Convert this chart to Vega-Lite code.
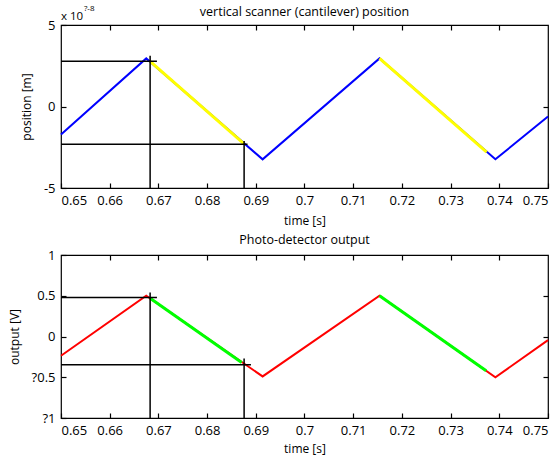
{
  "$schema": "https://vega.github.io/schema/vega-lite/v6.json",
  "padding": {"left": 7, "top": 4, "right": 0, "bottom": 0},
  "spacing": 5,
  "datasets": {
    "pos": [
      {"t": 0.65, "v": -1.72, "series": "scan"},
      {"t": 0.6675, "v": 2.95, "series": "scan"},
      {"t": 0.6914, "v": -3.24, "series": "scan"},
      {"t": 0.7154, "v": 2.95, "series": "scan"},
      {"t": 0.7392, "v": -3.24, "series": "scan"},
      {"t": 0.75, "v": -0.61, "series": "scan"},
      {"t": 0.6683, "v": 2.77, "series": "hi1"},
      {"t": 0.6876, "v": -2.3, "series": "hi1"},
      {"t": 0.7154, "v": 2.95, "series": "hi2"},
      {"t": 0.7374, "v": -2.8, "series": "hi2"}
    ],
    "posRef": [
      {"t": 0.65, "t2": 0.6697, "v": 2.77, "v2": 2.77},
      {"t": 0.6683, "t2": 0.6683, "v": 3.11, "v2": -5},
      {"t": 0.65, "t2": 0.6883, "v": -2.32, "v2": -2.32},
      {"t": 0.6876, "t2": 0.6876, "v": -2.11, "v2": -5}
    ],
    "out": [
      {"t": 0.65, "v": -0.236, "series": "det"},
      {"t": 0.6675, "v": 0.5, "series": "det"},
      {"t": 0.6914, "v": -0.49, "series": "det"},
      {"t": 0.7154, "v": 0.5, "series": "det"},
      {"t": 0.7392, "v": -0.5, "series": "det"},
      {"t": 0.75, "v": -0.045, "series": "det"},
      {"t": 0.6683, "v": 0.47, "series": "hi1"},
      {"t": 0.6871, "v": -0.32, "series": "hi1"},
      {"t": 0.7154, "v": 0.5, "series": "hi2"},
      {"t": 0.7373, "v": -0.42, "series": "hi2"}
    ],
    "outRef": [
      {"t": 0.65, "t2": 0.6697, "v": 0.478, "v2": 0.478},
      {"t": 0.6683, "t2": 0.6683, "v": 0.539, "v2": -1},
      {"t": 0.65, "t2": 0.689, "v": -0.346, "v2": -0.346},
      {"t": 0.6876, "t2": 0.6876, "v": -0.27, "v2": -1}
    ],
    "expo": [
      {"t": 0.65, "v": 5, "label": "x 10"}
    ],
    "expoSup": [
      {"t": 0.6547, "v": 5, "label": "?-8"}
    ]
  },
  "vconcat": [
    {
      "width": 487,
      "height": 163,
      "title": {"text": "vertical scanner (cantilever) position", "offset": -13},
      "resolve": {"axis": {"x": "independent", "y": "independent"}},
      "layer": [
        {
          "data": {"name": "pos"},
          "transform": [{"filter": "datum.series == 'scan'"}],
          "mark": {"type": "line", "color": "#0000ff", "strokeWidth": 2},
          "encoding": {
            "x": {"field": "t", "type": "quantitative", "scale": {"domain": [0.65, 0.75], "nice": false},
              "axis": {"values": [0.65, 0.66, 0.67, 0.68, 0.69, 0.7, 0.71, 0.72, 0.73, 0.74, 0.75], "format": ".2~f", "title": "time [s]", "grid": false, "domain": false, "tickSize": -5, "labelPadding": 11, "titlePadding": 8}},
            "y": {"field": "v", "type": "quantitative", "scale": {"domain": [-5, 5], "nice": false},
              "axis": {"values": [-5, 0, 5], "title": "position [m]", "grid": false, "domain": false, "tickSize": -5, "labelPadding": 11, "titlePadding": 10, "labelExpr": "replace(datum.label, '−', '-')"}}
          }
        },
        {
          "data": {"name": "pos"},
          "transform": [{"filter": "datum.series != 'scan'"}],
          "mark": {"type": "line", "color": "#ffff00", "strokeWidth": 3},
          "encoding": {
            "x": {"field": "t", "type": "quantitative", "axis": null},
            "y": {"field": "v", "type": "quantitative", "axis": null},
            "detail": {"field": "series"}
          }
        },
        {
          "data": {"name": "posRef"},
          "mark": {"type": "rule", "color": "black", "strokeWidth": 1.5},
          "encoding": {
            "x": {"field": "t", "type": "quantitative",
              "axis": {"orient": "top", "labels": false, "title": null, "grid": false, "domain": false, "tickSize": -5, "values": [0.66, 0.67, 0.68, 0.69, 0.7, 0.71, 0.72, 0.73, 0.74]}},
            "x2": {"field": "t2"},
            "y": {"field": "v", "type": "quantitative",
              "axis": {"orient": "right", "labels": false, "title": null, "grid": false, "domain": false, "tickSize": -5, "values": [0]}},
            "y2": {"field": "v2"}
          }
        },
        {
          "data": {"name": "expo"},
          "mark": {"type": "text", "align": "left", "baseline": "alphabetic", "dy": -5, "fontSize": 11.5, "color": "black"},
          "encoding": {
            "x": {"field": "t", "type": "quantitative", "axis": null},
            "y": {"field": "v", "type": "quantitative", "axis": null},
            "text": {"field": "label"}
          }
        },
        {
          "data": {"name": "expoSup"},
          "mark": {"type": "text", "align": "left", "baseline": "alphabetic", "dy": -14, "fontSize": 8, "color": "black"},
          "encoding": {
            "x": {"field": "t", "type": "quantitative", "axis": null},
            "y": {"field": "v", "type": "quantitative", "axis": null},
            "text": {"field": "label"}
          }
        }
      ]
    },
    {
      "width": 487,
      "height": 163,
      "title": {"text": "Photo-detector output", "offset": 3},
      "resolve": {"axis": {"x": "independent", "y": "independent"}},
      "layer": [
        {
          "data": {"name": "out"},
          "transform": [{"filter": "datum.series == 'det'"}],
          "mark": {"type": "line", "color": "#ff0000", "strokeWidth": 2},
          "encoding": {
            "x": {"field": "t", "type": "quantitative", "scale": {"domain": [0.65, 0.75], "nice": false},
              "axis": {"values": [0.65, 0.66, 0.67, 0.68, 0.69, 0.7, 0.71, 0.72, 0.73, 0.74, 0.75], "format": ".2~f", "title": "time [s]", "grid": false, "domain": false, "tickSize": -5, "labelPadding": 11, "titlePadding": 6}},
            "y": {"field": "v", "type": "quantitative", "scale": {"domain": [-1, 1], "nice": false},
              "axis": {"values": [-1, -0.5, 0, 0.5, 1], "format": "~g", "title": "output [V]", "grid": false, "domain": false, "tickSize": -5, "labelPadding": 11, "titlePadding": 10, "labelExpr": "replace(datum.label, '−', '?')"}}
          }
        },
        {
          "data": {"name": "out"},
          "transform": [{"filter": "datum.series != 'det'"}],
          "mark": {"type": "line", "color": "#00ff00", "strokeWidth": 3},
          "encoding": {
            "x": {"field": "t", "type": "quantitative", "axis": null},
            "y": {"field": "v", "type": "quantitative", "axis": null},
            "detail": {"field": "series"}
          }
        },
        {
          "data": {"name": "outRef"},
          "mark": {"type": "rule", "color": "black", "strokeWidth": 1.5},
          "encoding": {
            "x": {"field": "t", "type": "quantitative",
              "axis": {"orient": "top", "labels": false, "title": null, "grid": false, "domain": false, "tickSize": -5, "values": [0.66, 0.67, 0.68, 0.69, 0.7, 0.71, 0.72, 0.73, 0.74]}},
            "x2": {"field": "t2"},
            "y": {"field": "v", "type": "quantitative",
              "axis": {"orient": "right", "labels": false, "title": null, "grid": false, "domain": false, "tickSize": -5, "values": [-0.5, 0, 0.5]}},
            "y2": {"field": "v2"}
          }
        }
      ]
    }
  ],
  "config": {
    "font": "Open Sans",
    "background": "white",
    "view": {"stroke": "black", "strokeWidth": 1.2},
    "axis": {"labelFontSize": 13, "labelColor": "black", "labelFont": "Open Sans", "titleFont": "Open Sans", "titleFontSize": 12, "titleFontWeight": "normal", "titleColor": "black", "tickColor": "black", "tickWidth": 1.2},
    "title": {"font": "Open Sans", "fontSize": 12.5, "fontWeight": "normal", "color": "black"}
  }
}
